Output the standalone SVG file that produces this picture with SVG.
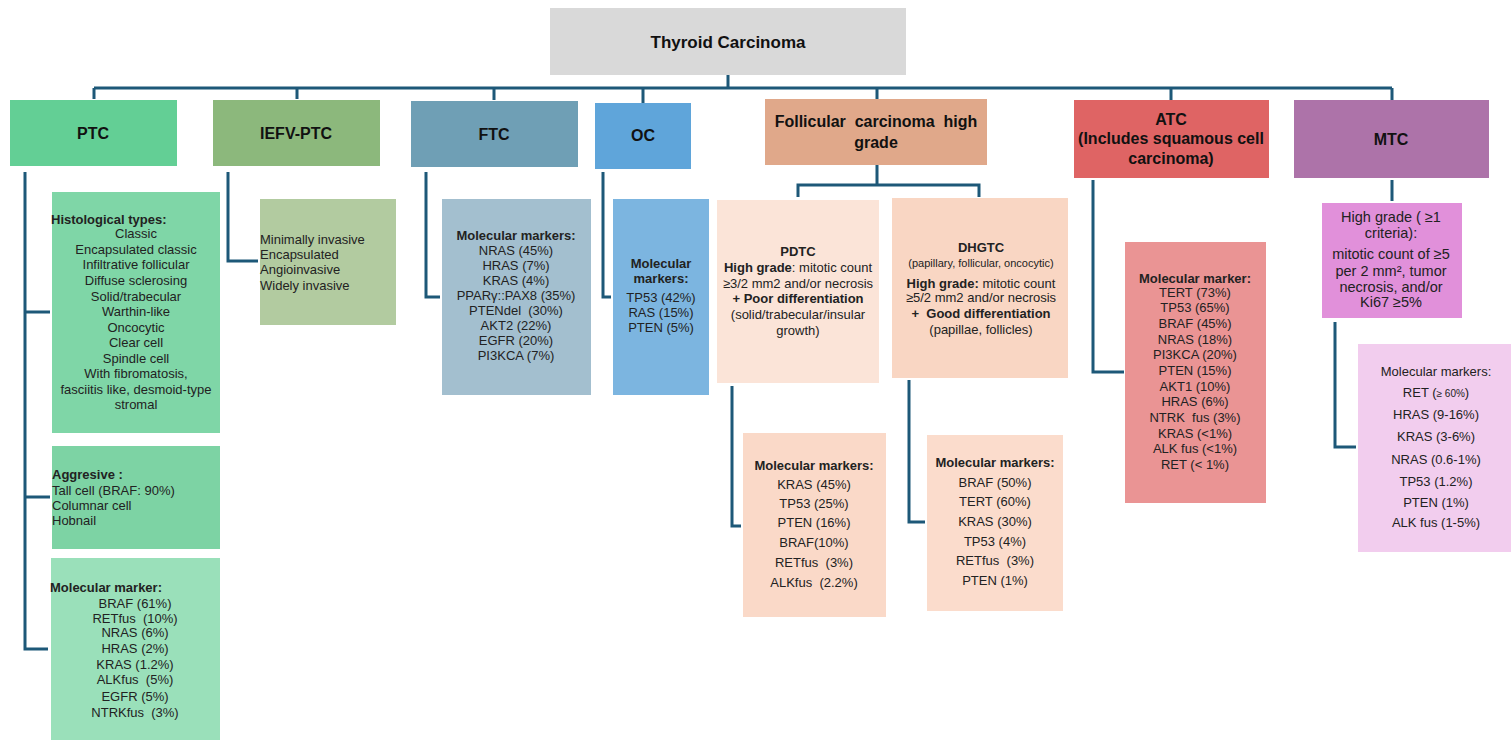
<svg xmlns="http://www.w3.org/2000/svg" width="1511" height="740" viewBox="0 0 1511 740">
<style>
text{font-family:"Liberation Sans",Arial,sans-serif;fill:#222;font-size:13px;white-space:pre}
.h{font-weight:bold;font-size:16px;fill:#111}
.b{font-weight:bold}
.c{text-anchor:middle}
.conn{fill:none;stroke:#1d5878;stroke-width:3}
</style>
<rect width="1511" height="740" fill="#ffffff"/>
<g id="connectors">
<path class="conn" d="M728,75 V88 M94,88 H1392 M94,88 V99 M297,88 V99 M494,88 V100 M643,88 V103 M877,88 V99 M1171,88 V100 M1392,88 V100"/>
<path class="conn" d="M25,172 V649 H48 M25,312 H50 M25,497 H50"/>
<path class="conn" d="M228,172 V261 H258"/>
<path class="conn" d="M426,172 V297 H440"/>
<path class="conn" d="M603,172 V297 H611"/>
<path class="conn" d="M877,165 V185 M798,197 V185 H979 V197"/>
<path class="conn" d="M732,386 V526 H741"/>
<path class="conn" d="M909,380 V522 H925"/>
<path class="conn" d="M1093,180 V372 H1124"/>
<path class="conn" d="M1392,180 V201 M1335,322 V447 H1356"/>
</g>
<g id="root">
<rect x="550" y="8" width="356" height="67" fill="#d9d9d9"/>
<text class="h c" x="728" y="48" style="font-size:17px">Thyroid Carcinoma</text>
</g>
<g id="ptc">
<rect x="10" y="100" width="167" height="66" fill="#63cf95"/>
<text class="h c" x="93" y="139">PTC</text>
</g>
<g id="iefv-ptc">
<rect x="213" y="100" width="167" height="66" fill="#8cb87c"/>
<text class="h c" x="296" y="139">IEFV-PTC</text>
</g>
<g id="ftc">
<rect x="411" y="101" width="167" height="66" fill="#6f9fb5"/>
<text class="h c" x="494" y="140">FTC</text>
</g>
<g id="oc">
<rect x="595" y="103" width="96" height="66" fill="#5fa5da"/>
<text class="h c" x="643" y="141">OC</text>
</g>
<g id="fchg">
<rect x="765" y="99" width="222" height="66" fill="#e0a88a"/>
<text class="h c" x="876" y="127">Follicular  carcinoma  high</text>
<text class="h c" x="876" y="148">grade</text>
</g>
<g id="atc">
<rect x="1074" y="100" width="195" height="78" fill="#df6464"/>
<text class="h c" x="1171" y="125">ATC</text>
<text class="h c" x="1171" y="144">(Includes squamous cell</text>
<text class="h c" x="1171" y="164">carcinoma)</text>
</g>
<g id="mtc">
<rect x="1294" y="100" width="195" height="78" fill="#ad73a9"/>
<text class="h c" x="1391" y="145">MTC</text>
</g>
<g id="ptc-histo">
<rect x="52" y="192" width="168" height="241" fill="#7fd6a7"/>
<text class="b" x="51" y="224">Histological types:</text>
<text class="c" x="136" y="238">Classic</text>
<text class="c" x="136" y="254">Encapsulated classic</text>
<text class="c" x="136" y="269">Infiltrative follicular</text>
<text class="c" x="136" y="285">Diffuse sclerosing</text>
<text class="c" x="136" y="301">Solid/trabecular</text>
<text class="c" x="136" y="316">Warthin-like</text>
<text class="c" x="136" y="332">Oncocytic</text>
<text class="c" x="136" y="347">Clear cell</text>
<text class="c" x="136" y="363">Spindle cell</text>
<text class="c" x="136" y="378">With fibromatosis,</text>
<text class="c" x="136" y="394">fasciitis like, desmoid-type</text>
<text class="c" x="136" y="409">stromal</text>
</g>
<g id="ptc-aggr">
<rect x="52" y="446" width="168" height="103" fill="#7dd3a4"/>
<text class="b" x="52" y="479">Aggresive :</text>
<text x="52" y="495">Tall cell (BRAF: 90%)</text>
<text x="52" y="510">Columnar cell</text>
<text x="52" y="525">Hobnail</text>
</g>
<g id="ptc-mol">
<rect x="51" y="558" width="169" height="182" fill="#9ae0ba"/>
<text class="b" x="50" y="592">Molecular marker:</text>
<text class="c" x="135" y="608">BRAF (61%)</text>
<text class="c" x="135" y="623">RETfus  (10%)</text>
<text class="c" x="135" y="637">NRAS (6%)</text>
<text class="c" x="135" y="653">HRAS (2%)</text>
<text class="c" x="135" y="669">KRAS (1.2%)</text>
<text class="c" x="135" y="684">ALKfus  (5%)</text>
<text class="c" x="135" y="701">EGFR (5%)</text>
<text class="c" x="135" y="717">NTRKfus  (3%)</text>
</g>
<g id="iefv-sub">
<rect x="260" y="199" width="136" height="126" fill="#b2cba0"/>
<text x="260" y="244">Minimally invasive</text>
<text x="260" y="259">Encapsulated</text>
<text x="260" y="274">Angioinvasive</text>
<text x="260" y="290">Widely invasive</text>
</g>
<g id="ftc-mol">
<rect x="442" y="199" width="149" height="196" fill="#a3bfcf"/>
<text class="b c" x="516" y="240">Molecular markers:</text>
<text class="c" x="516" y="255">NRAS (45%)</text>
<text class="c" x="516" y="270">HRAS (7%)</text>
<text class="c" x="516" y="285">KRAS (4%)</text>
<text class="c" x="516" y="300">PPARγ::PAX8 (35%)</text>
<text class="c" x="516" y="315">PTENdel  (30%)</text>
<text class="c" x="516" y="330">AKT2 (22%)</text>
<text class="c" x="516" y="345">EGFR (20%)</text>
<text class="c" x="516" y="360">PI3KCA (7%)</text>
</g>
<g id="oc-mol">
<rect x="613" y="199" width="96" height="196" fill="#7cb5e0"/>
<text class="b c" x="661" y="268">Molecular</text>
<text class="b c" x="661" y="283">markers:</text>
<text class="c" x="661" y="302">TP53 (42%)</text>
<text class="c" x="661" y="317">RAS (15%)</text>
<text class="c" x="661" y="332">PTEN (5%)</text>
</g>
<g id="pdtc">
<rect x="717" y="200" width="162" height="183" fill="#fbe4d8"/>
<text class="b c" x="798" y="256">PDTC</text>
<text class="c" x="798" y="272"><tspan class="b">High grade</tspan>: mitotic count</text>
<text class="c" x="798" y="288">≥3/2 mm2 and/or necrosis</text>
<text class="b c" x="798" y="303">+ Poor differentiation</text>
<text class="c" x="798" y="319">(solid/trabecular/insular</text>
<text class="c" x="798" y="335">growth)</text>
</g>
<g id="dhgtc">
<rect x="892" y="198" width="176" height="180" fill="#f9d6c3"/>
<text class="b c" x="981" y="252">DHGTC</text>
<text class="c" x="981" y="267" style="font-size:11px">(papillary, follicular, oncocytic)</text>
<text class="c" x="981" y="288"><tspan class="b">High grade:</tspan> mitotic count</text>
<text class="c" x="981" y="302">≥5/2 mm2 and/or necrosis</text>
<text class="b c" x="981" y="318">+  Good differentiation</text>
<text class="c" x="981" y="334">(papillae, follicles)</text>
</g>
<g id="pdtc-mol">
<rect x="743" y="433" width="143" height="184" fill="#fad9c8"/>
<text class="b c" x="814" y="470">Molecular markers:</text>
<text class="c" x="814" y="489">KRAS (45%)</text>
<text class="c" x="814" y="508">TP53 (25%)</text>
<text class="c" x="814" y="527">PTEN (16%)</text>
<text class="c" x="814" y="547">BRAF(10%)</text>
<text class="c" x="814" y="567">RETfus  (3%)</text>
<text class="c" x="814" y="587">ALKfus  (2.2%)</text>
</g>
<g id="dhgtc-mol">
<rect x="927" y="435" width="136" height="176" fill="#fbdccc"/>
<text class="b c" x="995" y="467">Molecular markers:</text>
<text class="c" x="995" y="487">BRAF (50%)</text>
<text class="c" x="995" y="506">TERT (60%)</text>
<text class="c" x="995" y="526">KRAS (30%)</text>
<text class="c" x="995" y="546">TP53 (4%)</text>
<text class="c" x="995" y="565">RETfus  (3%)</text>
<text class="c" x="995" y="585">PTEN (1%)</text>
</g>
<g id="atc-mol">
<rect x="1125" y="242" width="141" height="261" fill="#ea9494"/>
<text class="b c" x="1195" y="283">Molecular marker:</text>
<text class="c" x="1195" y="297">TERT (73%)</text>
<text class="c" x="1195" y="312">TP53 (65%)</text>
<text class="c" x="1195" y="328">BRAF (45%)</text>
<text class="c" x="1195" y="344">NRAS (18%)</text>
<text class="c" x="1195" y="359">PI3KCA (20%)</text>
<text class="c" x="1195" y="375">PTEN (15%)</text>
<text class="c" x="1195" y="391">AKT1 (10%)</text>
<text class="c" x="1195" y="406">HRAS (6%)</text>
<text class="c" x="1195" y="422">NTRK  fus (3%)</text>
<text class="c" x="1195" y="438">KRAS (&lt;1%)</text>
<text class="c" x="1195" y="453">ALK fus (&lt;1%)</text>
<text class="c" x="1195" y="469">RET (&lt; 1%)</text>
</g>
<g id="mtc-grade">
<rect x="1322" y="203" width="140" height="115" fill="#e190da"/>
<text class="c" x="1391" y="222" style="font-size:14.5px">High grade ( ≥1</text>
<text class="c" x="1391" y="238" style="font-size:14.5px">criteria):</text>
<text class="c" x="1391" y="259" style="font-size:14.5px">mitotic count of ≥5</text>
<text class="c" x="1391" y="276" style="font-size:14.5px">per 2 mm², tumor</text>
<text class="c" x="1391" y="292" style="font-size:14.5px">necrosis, and/or</text>
<text class="c" x="1391" y="307" style="font-size:14.5px">Ki67 ≥5%</text>
</g>
<g id="mtc-mol">
<rect x="1358" y="344" width="153" height="208" fill="#f2cdee"/>
<text class="c" x="1436" y="376">Molecular markers:</text>
<text class="c" x="1436" y="397">RET (<tspan style="font-size:10px">≥ 60%</tspan>)</text>
<text class="c" x="1436" y="419">HRAS (9-16%)</text>
<text class="c" x="1436" y="441">KRAS (3-6%)</text>
<text class="c" x="1436" y="464">NRAS (0.6-1%)</text>
<text class="c" x="1436" y="486">TP53 (1.2%)</text>
<text class="c" x="1436" y="507">PTEN (1%)</text>
<text class="c" x="1436" y="527">ALK fus (1-5%)</text>
</g>
</svg>
